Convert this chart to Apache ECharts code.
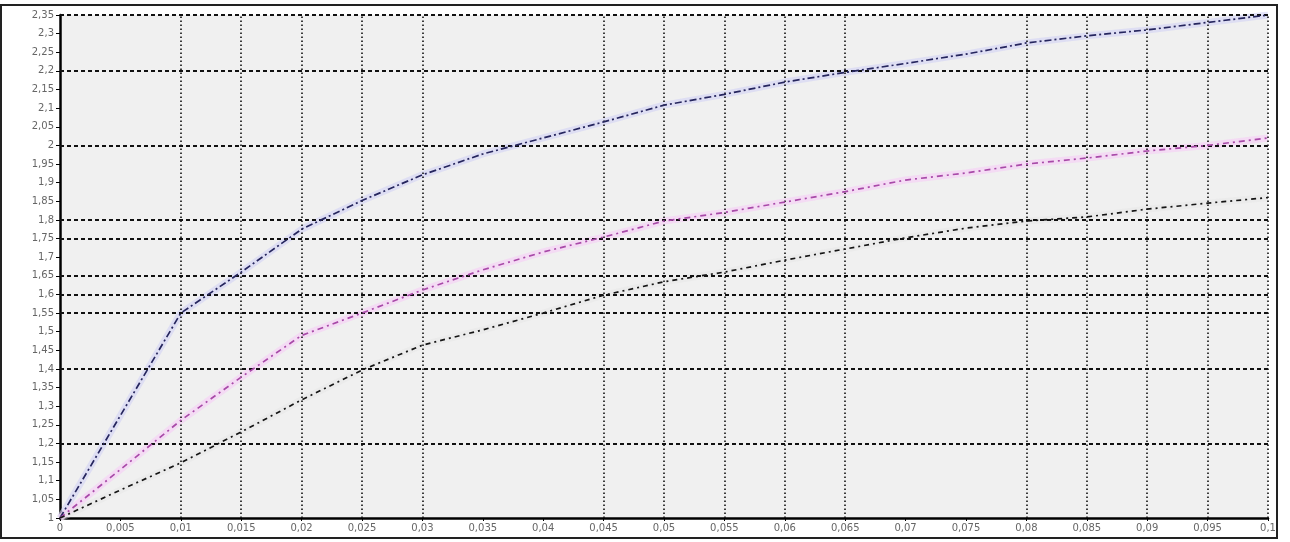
<!DOCTYPE html>
<html>
<head>
<meta charset="utf-8">
<script src="https://cdn.jsdelivr.net/npm/echarts@6/dist/echarts.min.js"></script>
<style>
html,body{margin:0;padding:0;background:#fff;}
#chart{width:1290px;height:542px;}
</style>
</head>
<body>
<div id="chart"></div>
<script>
// x positions (shared by all series)
var xValues = [0,0.005,0.01,0.015,0.02,0.025,0.03,0.035,0.04,0.045,0.05,0.055,0.06,0.065,0.07,0.075,0.08,0.085,0.09,0.095,0.1];
// series values
var blueSeries  = [1,1.275,1.55,1.66,1.775,1.852,1.921,1.977,2.02,2.063,2.108,2.137,2.17,2.196,2.22,2.245,2.275,2.294,2.31,2.33,2.35];
var pinkSeries  = [1,1.13,1.262,1.378,1.49,1.55,1.612,1.666,1.714,1.754,1.797,1.82,1.848,1.876,1.907,1.926,1.95,1.966,1.985,2.0,2.02];
var blackSeries = [1,1.075,1.148,1.231,1.317,1.397,1.464,1.505,1.55,1.598,1.634,1.66,1.692,1.722,1.752,1.778,1.797,1.808,1.829,1.845,1.86];
// reference grid lines actually drawn in the picture
var gridXLines = [0.01,0.015,0.02,0.025,0.03,0.045,0.05,0.055,0.06,0.065,0.08,0.085,0.09,0.095,0.1];
var gridYLines = [2.35,2.2,2.0,1.8,1.75,1.65,1.6,1.55,1.4,1.2];

function pairs(ys){ return xValues.map(function(x,i){ return [x, ys[i]]; }); }
function fmt(v){ return String(parseFloat((+v).toFixed(3))).replace('.', ','); }

var chart = echarts.init(document.getElementById('chart'), null, {renderer:'canvas'});

var labelStyle = {color:'#666', fontSize:10, fontFamily:'DejaVu Sans, Arial, sans-serif'};

var markX = gridXLines.map(function(v){ return {xAxis:v}; });
var markY = gridYLines.map(function(v){ return {yAxis:v}; });

function mainLine(name, ys, color, dash, glow){
  return [{
    name: name+'_glow', type:'line', data:pairs(ys), symbol:'none', silent:true, z:1,
    lineStyle:{color:glow, width:7}
  },{
    name: name, type:'line', data:pairs(ys), symbol:'none', z:5,
    lineStyle:{color:color, width:1.7, type:dash}
  }];
}

var series = [].concat(
  [{
    name:'gridX', type:'line', data:[], silent:true, z:3,
    markLine:{silent:true, precision:5, symbol:['none','none'], animation:false, label:{show:false},
      lineStyle:{color:'#111', width:1.6, type:[1.6,2.4]}, data:markX}
  },{
    name:'gridY', type:'line', data:[], silent:true, z:3,
    markLine:{silent:true, precision:5, symbol:['none','none'], animation:false, label:{show:false},
      lineStyle:{color:'#111', width:2, type:[4,3]}, data:markY}
  }],
  mainLine('blue', blueSeries, '#26265e', [7,3,2,3], 'rgba(210,210,245,0.6)'),
  mainLine('pink', pinkSeries, '#a84aa8', [6,4,2,4], 'rgba(245,210,245,0.7)'),
  mainLine('black', blackSeries, '#151515', [5,4,2,4], 'rgba(228,228,228,0.4)')
);

chart.setOption({
  animation:false,
  backgroundColor:'#ffffff',
  grid:{left:60, top:15, right:22, bottom:24, show:true, backgroundColor:'#f0f0f0', borderWidth:0},
  xAxis:{
    type:'value', min:0, max:0.1, interval:0.005,
    axisLine:{show:true, onZero:false, lineStyle:{color:'#000', width:2.5}},
    axisTick:{show:true, length:3, lineStyle:{color:'#000'}},
    axisLabel:Object.assign({formatter:fmt, margin:5}, labelStyle),
    splitLine:{show:false}
  },
  yAxis:{
    type:'value', min:1, max:2.35, interval:0.05,
    axisLine:{show:true, onZero:false, lineStyle:{color:'#000', width:2.5}},
    axisTick:{show:true, length:4, lineStyle:{color:'#000'}},
    axisLabel:Object.assign({formatter:fmt, margin:6}, labelStyle),
    splitLine:{show:false}
  },
  graphic:[{
    type:'rect', silent:true, z:-1,
    shape:{x:1, y:5, width:1276, height:533},
    style:{fill:'none', stroke:'#222', lineWidth:2}
  }],
  series:series
});
</script>
</body>
</html>
